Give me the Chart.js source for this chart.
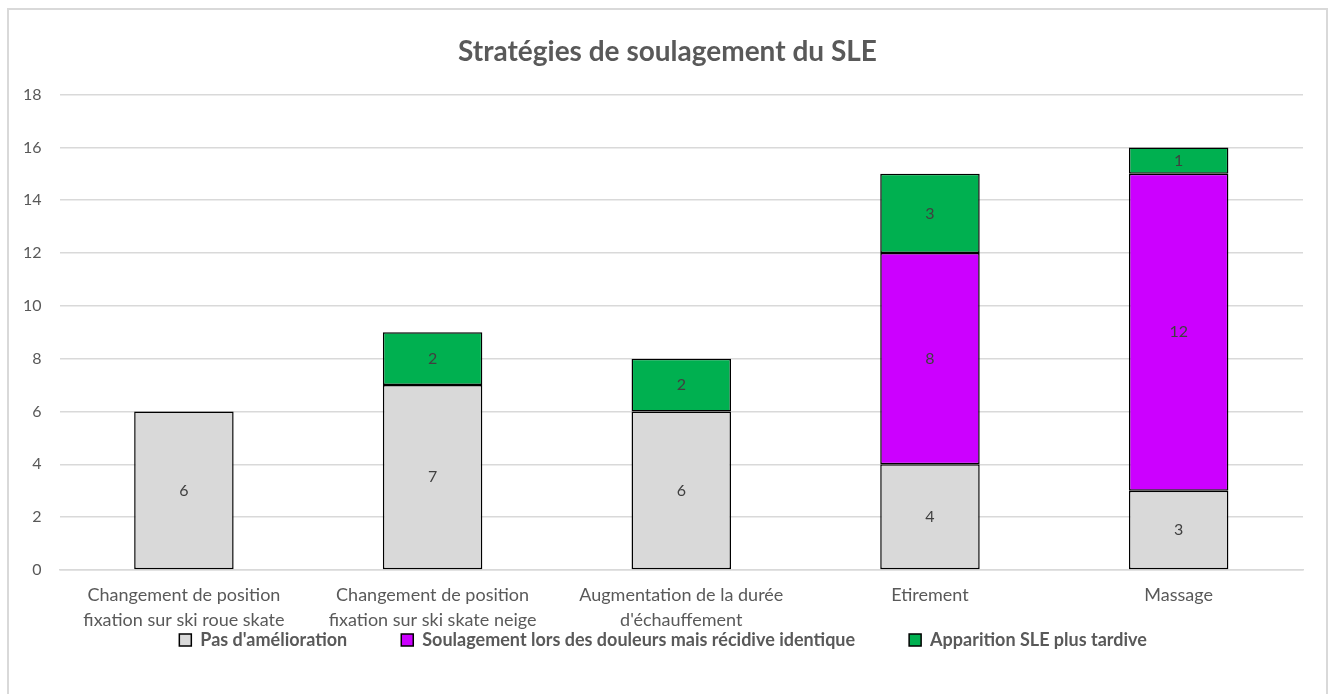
<!DOCTYPE html>
<html>
<head>
<meta charset="utf-8">
<script src="https://cdn.jsdelivr.net/npm/chart.js@4/dist/chart.umd.min.js"></script>
<style>
  html, body { margin: 0; padding: 0; background: #fff; overflow: hidden; }
  #frame {
    position: absolute; left: 7px; top: 8px;
    width: 1321px; height: 700px;
    border: 2px solid #d9d9d9; box-sizing: border-box;
  }
  #chart { display: block; }
</style>
</head>
<body>
<div id="frame"><canvas id="chart" width="1317" height="684"></canvas></div>
<script>
// Categories (two-line labels) and series values
const categories = [
    ['Changement de position', 'fixation sur ski roue skate'],
    ['Changement de position', 'fixation sur ski skate neige'],
    ['Augmentation de la durée', "d'échauffement"],
    'Etirement',
    'Massage'
];
const pasAmelioration = [6, 7, 6, 4, 3];
const soulagementRecidive = [null, null, null, 8, 12];
const apparitionTardive = [null, 2, 2, 3, 1];
const yTicks = [0, 2, 4, 6, 8, 10, 12, 14, 16, 18];

const FONT = "Lato, 'Open Sans', sans-serif";
const TEXT = '#595959';
const LEGEND_GAP = '\u2003\u2003\u2003\u2003';

// draw the value in the middle of each segment
const segmentLabels = {
    id: 'segmentLabels',
    afterDatasetsDraw(chart) {
        const ctx = chart.ctx;
        ctx.save();
        ctx.font = '16px ' + FONT;
        ctx.fillStyle = '#404040';
        ctx.textAlign = 'center';
        ctx.textBaseline = 'middle';
        chart.data.datasets.forEach((ds, i) => {
            chart.getDatasetMeta(i).data.forEach((bar, j) => {
                const v = ds.data[j];
                if (v === null || v === undefined) return;
                const p = bar.getProps(['x', 'y', 'base'], true);
                ctx.fillText(String(v), p.x, (p.y + p.base) / 2);
            });
        });
        ctx.restore();
    }
};

const ctx = document.getElementById('chart').getContext('2d');
new Chart(ctx, {
    type: 'bar',
    data: {
        labels: categories,
        datasets: [
            {
                label: "Pas d'amélioration",
                data: pasAmelioration,
                backgroundColor: '#d9d9d9',
                borderColor: '#000000',
                borderWidth: 1.5,
                borderSkipped: false
            },
            {
                label: 'Soulagement lors des douleurs mais récidive identique',
                data: soulagementRecidive,
                backgroundColor: '#cc00ff',
                borderColor: '#000000',
                borderWidth: 1.5,
                borderSkipped: false
            },
            {
                label: 'Apparition SLE plus tardive',
                data: apparitionTardive,
                backgroundColor: '#00b050',
                borderColor: '#000000',
                borderWidth: 1.5,
                borderSkipped: false
            }
        ]
    },
    options: {
        responsive: false,
        animation: false,
        layout: { padding: { left: 0, right: 0, top: 0, bottom: 35 } },
        datasets: { bar: { categoryPercentage: 1, barPercentage: 0.4 } },
        plugins: {
            title: {
                display: true,
                text: 'Stratégies de soulagement du SLE',
                color: TEXT,
                font: { family: FONT, size: 28, weight: 'bold' },
                padding: { top: 25, bottom: 26 }
            },
            legend: {
                position: 'bottom',
                labels: {
                    color: TEXT,
                    font: { family: FONT, size: 18, weight: 'bold' },
                    boxWidth: 12,
                    boxHeight: 12,
                    padding: 0,
                    generateLabels: (chart) => {
                        const items = Chart.defaults.plugins.legend.labels.generateLabels(chart);
                        items.forEach((it, i) => {
                            it.lineWidth = 1.5;
                            it.text += (i < items.length - 1) ? LEGEND_GAP : '  ';
                        });
                        return items;
                    }
                }
            },
            tooltip: { enabled: false }
        },
        scales: {
            x: {
                stacked: true,
                grid: { display: false, drawTicks: false },
                border: { color: '#d9d9d9', width: 1.5 },
                ticks: {
                    color: TEXT,
                    font: { family: FONT, size: 18, lineHeight: 1.39 },
                    maxRotation: 0,
                    autoSkip: false,
                    padding: 13
                },
                afterFit: (scale) => { scale.height -= 15; }
            },
            y: {
                stacked: true,
                min: 0,
                max: 18,
                afterBuildTicks: (axis) => { axis.ticks = yTicks.map(v => ({ value: v })); },
                grid: { color: '#d9d9d9', lineWidth: 1.5, drawTicks: false },
                border: { display: false },
                ticks: {
                    color: TEXT,
                    font: { family: FONT, size: 16 },
                    padding: 18
                },
                afterFit: (scale) => { scale.width -= 4; }
            },
            // empty right-hand margin so title and legend stay centred on the frame
            yRight: {
                type: 'linear',
                position: 'right',
                grid: { display: false, drawTicks: false },
                border: { display: false },
                ticks: { display: false },
                afterFit: (scale) => { scale.width = 23; }
            }
        }
    },
    plugins: [segmentLabels]
});
</script>
</body>
</html>
